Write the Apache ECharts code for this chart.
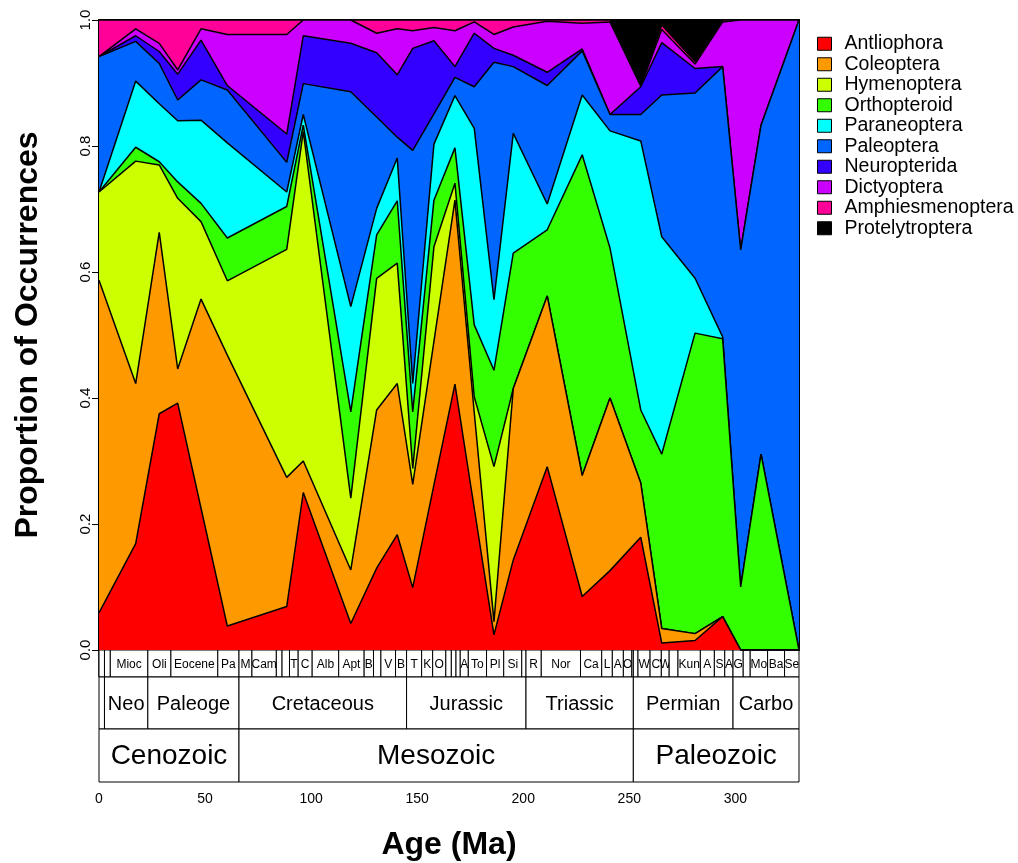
<!DOCTYPE html>
<html><head><meta charset="utf-8">
<script src="https://cdn.jsdelivr.net/npm/echarts@6/dist/echarts.min.js"></script>
<style>html,body{margin:0;padding:0;background:#fff}#c{width:1018px;height:863px}</style>
</head><body><div id="c"></div>
<script>
// ---- data ----
const ages = [0, 17.3, 28.4, 37.1, 48.1, 60.5, 88.5, 96.3, 118.7, 130.9, 140.6, 147.9, 157.9, 167.8, 176.9, 186.2, 195.3, 211.3, 227.8, 240.9, 255.4, 265.3, 281.0, 294.0, 302.5, 312.1, 330];
const antliophora = [0.059, 0.169, 0.375, 0.392, 0.225, 0.038, 0.069, 0.250, 0.042, 0.130, 0.183, 0.099, 0.262, 0.422, 0.225, 0.024, 0.143, 0.291, 0.085, 0.126, 0.179, 0.011, 0.015, 0.053, 0, 0, 0];
const coleoptera = [0.528, 0.254, 0.288, 0.054, 0.332, 0.430, 0.205, 0.050, 0.085, 0.251, 0.240, 0.164, 0.228, 0.292, 0.152, 0.021, 0.272, 0.271, 0.192, 0.274, 0.086, 0.023, 0.011, 0, 0, 0, 0];
const hymenoptera = [0.140, 0.353, 0.107, 0.271, 0.123, 0.118, 0.362, 0.523, 0.114, 0.209, 0.191, 0.025, 0.150, 0.027, 0.025, 0.246, 0, 0, 0, 0, 0, 0, 0, 0, 0, 0, 0];
const orthopteroid = [0, 0.022, 0.005, 0.026, 0.029, 0.068, 0.068, 0.010, 0.137, 0.069, 0.099, 0.090, 0.074, 0.056, 0.114, 0.153, 0.215, 0.105, 0.509, 0.238, 0.116, 0.277, 0.477, 0.441, 0.100, 0.311, 0];
const paraneoptera = [0, 0.105, 0.092, 0.097, 0.132, 0.151, 0.023, 0.017, 0.167, 0.042, 0.068, 0.045, 0.089, 0.083, 0.312, 0.112, 0.190, 0.041, 0.095, 0.186, 0.427, 0.345, 0.087, 0.003, 0, 0, 0];
const paleoptera = [0.215, 0.063, 0.064, 0.033, 0.064, 0.084, 0.047, 0.049, 0.341, 0.145, 0.033, 0.370, 0.048, 0.029, 0.066, 0.377, 0.106, 0.188, 0.070, 0.026, 0.042, 0.225, 0.294, 0.429, 0.535, 0.522, 1.0];
const neuropterida = [0, 0.009, 0.019, 0.041, 0.063, 0.007, 0.045, 0.076, 0.077, 0.102, 0.099, 0.162, 0.116, 0.017, 0.085, 0.022, 0.018, 0.021, 0.003, 0, 0.044, 0.083, 0.039, 0, 0, 0, 0];
const dictyoptera = [0, 0.011, 0.013, 0.007, 0.018, 0.081, 0.158, 0.025, 0.037, 0.031, 0.073, 0.028, 0.021, 0.057, 0.018, 0.022, 0.045, 0.081, 0.041, 0.147, 0.001, 0.021, 0.007, 0.071, 0.365, 0.167, 0];
const amphiesmenoptera = [0.058, 0.014, 0.037, 0.079, 0.014, 0.023, 0.023, 0, 0, 0.021, 0.014, 0.017, 0.012, 0.017, 0.003, 0.023, 0.011, 0.002, 0.005, 0.003, 0.001, 0.007, 0.004, 0.003, 0, 0, 0];
const protelytroptera = [0, 0, 0, 0, 0, 0, 0, 0, 0, 0, 0, 0, 0, 0, 0, 0, 0, 0, 0, 0, 0.104, 0.008, 0.066, 0, 0, 0, 0];

const seriesNames = ['Antliophora', 'Coleoptera', 'Hymenoptera', 'Orthopteroid', 'Paraneoptera', 'Paleoptera', 'Neuropterida', 'Dictyoptera', 'Amphiesmenoptera', 'Protelytroptera'];
const seriesValues = [antliophora, coleoptera, hymenoptera, orthopteroid, paraneoptera, paleoptera, neuropterida, dictyoptera, amphiesmenoptera, protelytroptera];

const xTicks = [0, 50, 100, 150, 200, 250, 300];

// geologic time scale
const stageBounds = [0, 0.0117, 2.58, 5.333, 23.03, 33.9, 56, 66, 72.1, 83.6, 86.3, 89.8, 93.9, 100.5, 113, 125, 129.4, 132.9, 139.8, 145, 152.1, 157.3, 163.5, 166.1, 168.3, 170.3, 174.1, 182.7, 190.8, 199.3, 201.3, 208.5, 227, 237, 242, 247.2, 251.2, 251.9, 254.1, 259.8, 265.1, 268.8, 272.95, 283.5, 290.1, 295, 298.9, 303.7, 307, 315.2, 323.2, 330.9];
const stageLabels = ['', '', '', 'Mioc', 'Oli', 'Eocene', 'Pa', 'M', 'Cam', '', '', 'T', 'C', 'Alb', 'Apt', 'B', '', 'V', 'B', 'T', 'K', 'O', '', '', '', 'A', 'To', 'Pl', 'Si', '', 'R', 'Nor', 'Ca', 'L', 'A', 'O', '', '', 'W', 'C', 'W', '', 'Kun', 'A', 'S', 'A', 'G', '', 'Mo', 'Ba', 'Se'];
const periodBounds = [0, 2.58, 23.03, 66, 145, 201.3, 251.9, 298.9, 358.9];
const periodLabels = ['', 'Neo', 'Paleoge', 'Cretaceous', 'Jurassic', 'Triassic', 'Permian', 'Carbo'];
const eraBounds = [0, 66, 251.9, 541];
const eraLabels = ['Cenozoic', 'Mesozoic', 'Paleozoic'];

// ---- styling / layout ----
const fills = ['#FF0000', '#FF9900', '#CCFF00', '#33FF00', '#00FFFF', '#0066FF', '#3300FF', '#CC00FF', '#FF0099', '#000000'];
const FONT = '"Liberation Sans", Arial, Helvetica, sans-serif';
const XMAX = 330;
const ROWS = [[0, 27], [27, 79], [79, 132]];
const ROW_FONT = [12, 20, 28];

// cumulative (stacked) proportions; each layer is painted from 0 up to its cumulative top,
// upper layers first, so the visible band of each layer is between neighbouring tops
const cumulative = [];
seriesValues.forEach((vals, k) => {
  cumulative.push(vals.map((v, i) => (k ? cumulative[k - 1][i] : 0) + v));
});

const tsItems = [];
[[stageBounds, stageLabels], [periodBounds, periodLabels], [eraBounds, eraLabels]].forEach(([b, l], row) => {
  for (let i = 0; i < l.length; i++) tsItems.push({ s: b[i], e: b[i + 1], row: row, label: l[i] });
});

const series = seriesNames.map((name, k) => ({
  name: name,
  type: 'line',
  xAxisIndex: 0, yAxisIndex: 0,
  data: ages.map((a, i) => [a, cumulative[k][i]]),
  symbol: 'none',
  showSymbol: false,
  color: fills[k],
  itemStyle: { color: fills[k] },
  lineStyle: { color: '#000', width: 1.5 },
  areaStyle: { color: fills[k], opacity: 1, origin: 'start' },
  z: 30 - k,
  silent: true
}));

series.push({
  type: 'custom',
  xAxisIndex: 1, yAxisIndex: 1,
  data: tsItems.map(d => [d.s, d.e, d.row]),
  clip: false,
  silent: true,
  renderItem: function (params, api) {
    const d = tsItems[params.dataIndex];
    const s = d.s, e = Math.min(d.e, XMAX);
    if (s >= XMAX) return null;
    const p0 = api.coord([s, ROWS[d.row][0]]);
    const p1 = api.coord([e, ROWS[d.row][1]]);
    const children = [{
      type: 'rect',
      shape: { x: p0[0], y: p0[1], width: p1[0] - p0[0], height: p1[1] - p0[1] },
      style: { fill: '#fff', stroke: '#000', lineWidth: 1 }
    }];
    if (d.label) {
      children.push({
        type: 'text',
        style: {
          text: d.label, x: (p0[0] + p1[0]) / 2, y: (p0[1] + p1[1]) / 2 + 1,
          align: 'center', verticalAlign: 'middle',
          font: ROW_FONT[d.row] + 'px ' + FONT, fill: '#000'
        }
      });
    }
    return { type: 'group', children: children };
  }
});

const chart = echarts.init(document.getElementById('c'), null, { renderer: 'canvas' });
chart.setOption({
  animation: false,
  backgroundColor: '#fff',
  textStyle: { fontFamily: FONT },
  grid: [
    { left: 99, top: 20, width: 700, height: 630, show: true, borderColor: '#000', borderWidth: 2, backgroundColor: 'transparent' },
    { left: 99, top: 650, width: 700, height: 132 }
  ],
  legend: {
    orient: 'vertical', left: 812, top: 28.5,
    icon: 'rect', itemWidth: 14, itemHeight: 13, itemGap: 0,
    itemStyle: { borderColor: '#000', borderWidth: 1 },
    textStyle: { fontSize: 19.5, lineHeight: 20.5, color: '#000', fontFamily: FONT, padding: [0, 0, 0, 8] },
    data: seriesNames
  },
  xAxis: [
    { gridIndex: 0, type: 'value', min: 0, max: XMAX, show: false },
    {
      gridIndex: 1, type: 'value', min: 0, max: XMAX, position: 'bottom',
      axisLine: { show: true, lineStyle: { color: '#000', width: 1 } },
      axisTick: { show: true, length: 7, lineStyle: { color: '#000' }, customValues: xTicks },
      axisLabel: { color: '#000', fontSize: 14, margin: 10, customValues: xTicks, fontFamily: FONT },
      splitLine: { show: false },
      name: 'Age (Ma)', nameLocation: 'middle', nameGap: 47,
      nameTextStyle: { fontSize: 32, fontWeight: 'bold', color: '#000', fontFamily: FONT }
    }
  ],
  yAxis: [
    {
      gridIndex: 0, type: 'value', min: 0, max: 1, interval: 0.2,
      axisLine: { show: true, lineStyle: { color: '#000', width: 1.5 } },
      axisTick: { show: true, length: 7, lineStyle: { color: '#000' } },
      axisLabel: { color: '#000', fontSize: 15, rotate: 90, margin: 6, fontFamily: FONT, formatter: v => v.toFixed(1) },
      splitLine: { show: false },
      name: 'Proportion of Occurrences', nameLocation: 'middle', nameGap: 55, nameRotate: 90,
      nameTextStyle: { fontSize: 32, fontWeight: 'bold', color: '#000', fontFamily: FONT }
    },
    { gridIndex: 1, type: 'value', min: 0, max: 132, inverse: true, show: false }
  ],
  series: series
});
</script>
</body></html>
